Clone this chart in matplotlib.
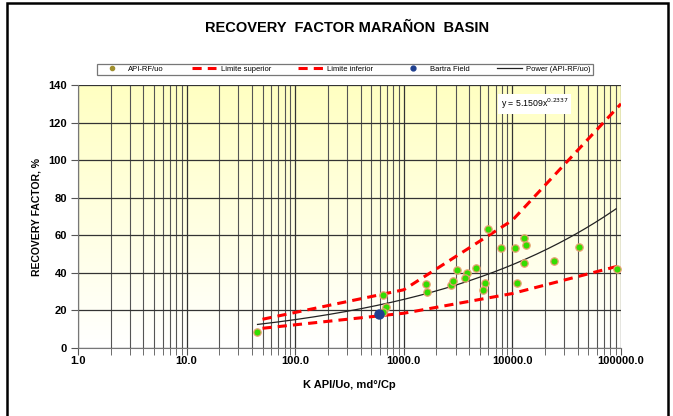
import numpy as np
import matplotlib
matplotlib.use("Agg")
import matplotlib.pyplot as plt
from matplotlib.lines import Line2D
from matplotlib.patches import Rectangle
from matplotlib.ticker import LogLocator, FixedLocator, NullFormatter

plt.rcParams['font.family'] = ['Liberation Sans', 'DejaVu Sans']

# ---- data ----
api_x = [44.2, 647, 686, 639, 1600, 1636, 2735, 2855, 3090, 3844, 3663, 4653, 5960,
         5625, 5395, 7850, 10640, 11100, 12790, 13430, 12880, 24300, 40800, 91900]
api_y = [8.7, 28.2, 22.0, 19.2, 34.1, 29.8, 33.5, 35.5, 41.7, 40.1, 37.3, 42.7, 63.2,
         34.8, 30.9, 53.1, 53.1, 34.8, 58.4, 55.0, 45.1, 46.1, 53.9, 41.9]
bartra_x = [595]
bartra_y = [17.9]
lim_x = [50, 1000, 10000, 100000]
lim_sup = [15.3, 31.0, 68.0, 130.0]
lim_inf = [10.5, 18.5, 29.0, 44.0]
pow_a, pow_b = 5.1509, 0.2337
pow_x = np.logspace(np.log10(45), np.log10(90000), 200)
pow_y = pow_a * pow_x ** pow_b
y_ticks = [0, 20, 40, 60, 80, 100, 120, 140]
x_ticks = [1, 10, 100, 1000, 10000, 100000]
x_labels = ["1.0", "10.0", "100.0", "1000.0", "10000.0", "100000.0"]

W, H = 673, 416
fig = plt.figure(figsize=(W / 100, H / 100), dpi=100)
L, R, T, B = 78, 621, 85, 348
ax = fig.add_axes([L / W, 1 - B / H, (R - L) / W, (B - T) / H])

# background gradient
grad = np.linspace(0, 1, 256).reshape(-1, 1)
top = np.array([1.0, 1.0, 0.76])
bot = np.array([1.0, 1.0, 1.0])
img = top[None, None, :] * (1 - grad[:, :, None]) + bot[None, None, :] * grad[:, :, None]
ax.imshow(img, extent=[0, 1, 0, 1], transform=ax.transAxes, aspect='auto', zorder=0)

ax.set_xscale('log')
ax.set_xlim(1, 100000)
ax.set_ylim(0, 140)

ax.xaxis.set_major_locator(FixedLocator(x_ticks))
ax.set_xticks(x_ticks)
ax.set_xticklabels(x_labels)
ax.xaxis.set_minor_locator(LogLocator(base=10, subs=np.arange(2, 10), numticks=20))
ax.xaxis.set_minor_formatter(NullFormatter())
ax.set_yticks(y_ticks)

ax.grid(True, which='major', axis='both', color='#333333', lw=0.9, zorder=1)
ax.grid(True, which='minor', axis='x', color='#555555', lw=0.8, zorder=1)
ax.set_axisbelow(True)

for s in ['top', 'right']:
    ax.spines[s].set_visible(False)
for s in ['left', 'bottom']:
    ax.spines[s].set_color('#777777')
ax.tick_params(axis='both', which='both', direction='out', color='#555555')
ax.tick_params(axis='x', which='major', length=5, labelsize=8, pad=1)
ax.tick_params(axis='x', which='minor', length=5)
ax.tick_params(axis='y', length=5, labelsize=8, pad=3)
for lab in ax.get_xticklabels() + ax.get_yticklabels():
    lab.set_fontweight('bold')

# series
ax.plot(lim_x, lim_sup, color='#FF0000', lw=2.2, dashes=(3, 2), zorder=3)
ax.plot(lim_x, lim_inf, color='#FF0000', lw=2.2, dashes=(3, 2), zorder=3)
ax.plot(pow_x, pow_y, color='#222222', lw=0.9, zorder=3)
ax.plot(api_x, api_y, 'o', ms=5.3, mfc='#33DD00', mec='#E8A070', mew=0.9, ls='none', zorder=4)
ax.plot(bartra_x, bartra_y, 'o', ms=6.5, mfc='#1F3F8F', mec='#1F3F8F', ls='none', zorder=5)

ax.text(0.7785, 0.928, "y = 5.1509x$^{0.2337}$", transform=ax.transAxes, fontsize=6.3,
        ha='left', va='center', zorder=6,
        bbox=dict(boxstyle='square,pad=0.3', fc='white', ec='none'))

ax.set_xlabel("K API/Uo, md°/Cp", fontsize=8, fontweight='bold', labelpad=10)
ax.set_ylabel("RECOVERY FACTOR, %", fontsize=7.5, fontweight='bold', labelpad=5)

fig.text(347 / W, 1 - 28 / H, "RECOVERY  FACTOR MARAÑON  BASIN", ha='center', va='center',
         fontsize=10.5, fontweight='bold')

# legend
handles = [
    Line2D([], [], marker='o', ls='none', ms=3, mfc='#A09030', mec='#A09030'),
    Line2D([], [], color='#FF0000', lw=2.2, dashes=(3, 2)),
    Line2D([], [], color='#FF0000', lw=2.2, dashes=(3, 2)),
    Line2D([], [], marker='o', ls='none', ms=3.5, mfc='#1F3F8F', mec='#1F3F8F'),
    Line2D([], [], color='#222222', lw=0.9),
]
labels = ["API-RF/uo", "Limite superior", "Limite inferior", "Bartra Field", "Power (API-RF/uo)"]
leg = fig.legend(handles, labels, loc='center', bbox_to_anchor=(345 / W, 1 - 69.5 / H),
                 ncol=5, fontsize=5.5, frameon=True, fancybox=False, edgecolor='#555555',
                 handlelength=3.2, columnspacing=3.6, borderpad=0.3, handletextpad=0.6)
leg.get_frame().set_linewidth(0.9)

# figure frame
fig.patches.append(Rectangle((7 / W, -0.05), (668 - 7) / W, 1.05 - 3 / H,
                             transform=fig.transFigure, fill=False, ec='black', lw=1.8))

fig.savefig("out.png", dpi=100)
